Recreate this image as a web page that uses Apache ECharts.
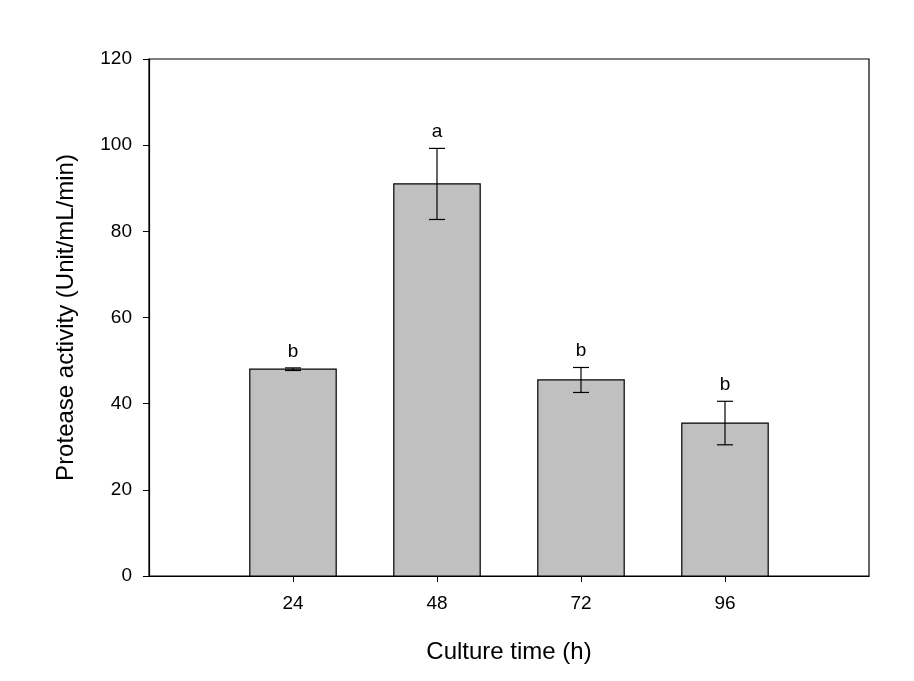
<!DOCTYPE html>
<html>
<head>
<meta charset="utf-8">
<script src="https://cdn.jsdelivr.net/npm/echarts@6/dist/echarts.min.js"></script>
<style>html,body{margin:0;padding:0;background:#fff}#c{width:914px;height:681px}</style>
</head>
<body>
<div id="c"></div>
<script>
const hours = [24, 48, 72, 96];
const activity = [48.0, 91.0, 45.5, 35.5];
const errors = [0.3, 8.25, 2.9, 5.05];
const letters = ['b', 'a', 'b', 'b'];
const yTicks = [0, 20, 40, 60, 80, 100, 120];
const xTicks = [24, 48, 72, 96];

const chart = echarts.init(document.getElementById('c'));
const data = hours.map((h, i) => [h, activity[i], errors[i], letters[i]]);
const barHalf = 7.2;

chart.setOption({
  animation: false,
  backgroundColor: '#fff',
  grid: {left: 149, right: 45, top: 59, bottom: 105, show: true, borderColor: '#000', borderWidth: 1.2},
  textStyle: {fontFamily: 'Liberation Sans, Arial, sans-serif'},
  xAxis: {
    type: 'value', min: 0, max: 120, interval: 24,
    name: 'Culture time (h)', nameLocation: 'middle', nameGap: 64,
    nameTextStyle: {fontSize: 24, color: '#000', fontFamily: 'Liberation Sans'},
    axisLine: {show: true, lineStyle: {color: '#000', width: 1.2}},
    axisTick: {show: true, length: 6, lineStyle: {color: '#000'}, customValues: xTicks},
    axisLabel: {fontSize: 19, color: '#000', margin: 18, fontFamily: 'Liberation Sans', customValues: xTicks,
      formatter: v => xTicks.includes(v) ? String(v) : ''},
    splitLine: {show: false}
  },
  yAxis: {
    type: 'value', min: 0, max: 120, interval: 20,
    name: 'Protease activity (Unit/mL/min)', nameLocation: 'middle', nameGap: 71,
    nameTextStyle: {fontSize: 24, color: '#000', fontFamily: 'Liberation Sans'},
    axisLine: {show: true, lineStyle: {color: '#000', width: 1.2}},
    axisTick: {show: true, length: 6, lineStyle: {color: '#000'}},
    axisLabel: {fontSize: 19, color: '#000', margin: 17, fontFamily: 'Liberation Sans',
      formatter: v => yTicks.includes(v) ? String(v) : ''},
    splitLine: {show: false}
  },
  series: [{
    type: 'custom',
    data: data,
    encode: {x: 0, y: 1},
    renderItem: function (params, api) {
      const h = api.value(0), v = api.value(1), e = api.value(2);
      const letter = letters[params.dataIndex];
      const tl = api.coord([h - barHalf, v]);
      const br = api.coord([h + barHalf, 0]);
      const top = api.coord([h, v + e]);
      const bot = api.coord([h, v - e]);
      const cx = top[0];
      const ls = {stroke: '#000', lineWidth: 1.2};
      return {
        type: 'group',
        children: [
          {type: 'rect', shape: {x: tl[0], y: tl[1], width: br[0] - tl[0], height: br[1] - tl[1]},
            style: {fill: '#c0c0c0', stroke: '#000', lineWidth: 1.2}},
          {type: 'line', shape: {x1: cx, y1: top[1], x2: cx, y2: bot[1]}, style: ls},
          {type: 'line', shape: {x1: cx - 8, y1: top[1], x2: cx + 8, y2: top[1]}, style: ls},
          {type: 'line', shape: {x1: cx - 8, y1: bot[1], x2: cx + 8, y2: bot[1]}, style: ls},
          {type: 'text', x: cx, y: top[1] - 7,
            style: {text: letter, fill: '#000', fontSize: 19, fontFamily: 'Liberation Sans', align: 'center', verticalAlign: 'bottom'}}
        ]
      };
    }
  }]
});
</script>
</body>
</html>
